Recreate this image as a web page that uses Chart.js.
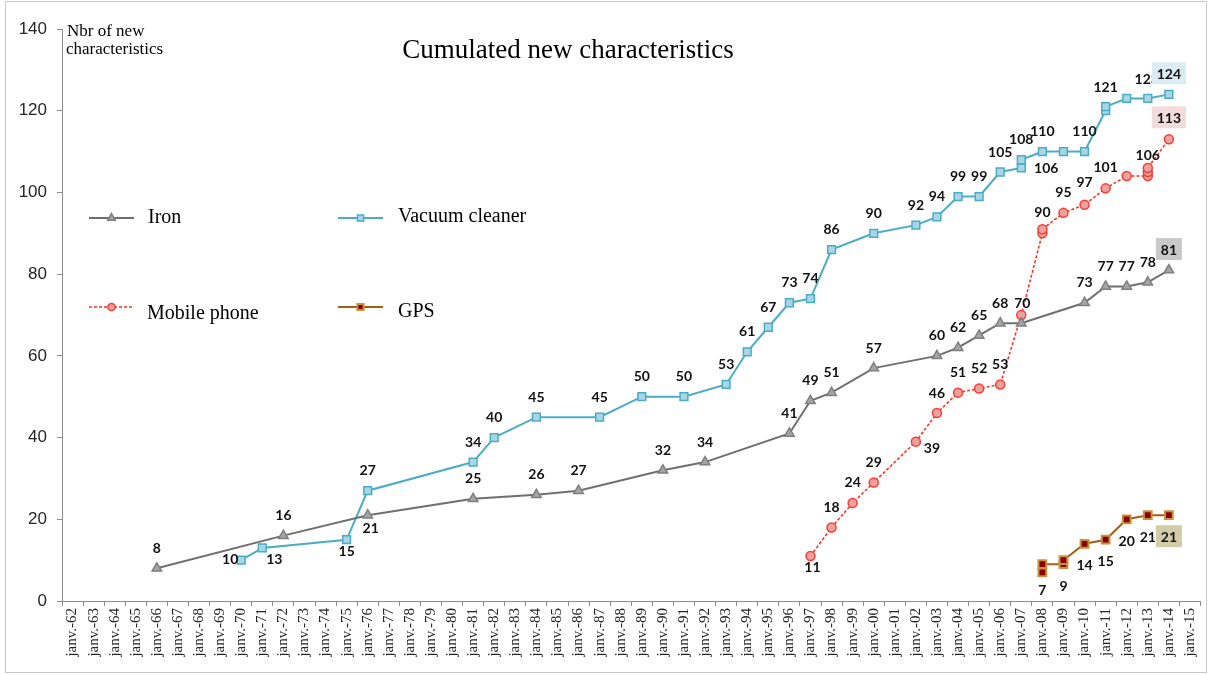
<!DOCTYPE html>
<html>
<head>
<meta charset="utf-8">
<title>Cumulated new characteristics</title>
<script src="https://cdn.jsdelivr.net/npm/chart.js@4.4.1/dist/chart.umd.min.js"></script>
<style>
  html, body { margin: 0; padding: 0; background: #fff; }
  #wrap { width: 1208px; height: 675px; }
</style>
</head>
<body>
<div id="wrap"><canvas id="chart" width="1208" height="675"></canvas></div>
<script>
// ---- data ----
const tickYears = [1962, 1963, 1964, 1965, 1966, 1967, 1968, 1969, 1970, 1971, 1972, 1973, 1974, 1975,
  1976, 1977, 1978, 1979, 1980, 1981, 1982, 1983, 1984, 1985, 1986, 1987, 1988, 1989, 1990, 1991,
  1992, 1993, 1994, 1995, 1996, 1997, 1998, 1999, 2000, 2001, 2002, 2003, 2004, 2005, 2006, 2007,
  2008, 2009, 2010, 2011, 2012, 2013, 2014, 2015];
const tickLabels = ['janv.-62', 'janv.-63', 'janv.-64', 'janv.-65', 'janv.-66', 'janv.-67', 'janv.-68',
  'janv.-69', 'janv.-70', 'janv.-71', 'janv.-72', 'janv.-73', 'janv.-74', 'janv.-75', 'janv.-76',
  'janv.-77', 'janv.-78', 'janv.-79', 'janv.-80', 'janv.-81', 'janv.-82', 'janv.-83', 'janv.-84',
  'janv.-85', 'janv.-86', 'janv.-87', 'janv.-88', 'janv.-89', 'janv.-90', 'janv.-91', 'janv.-92',
  'janv.-93', 'janv.-94', 'janv.-95', 'janv.-96', 'janv.-97', 'janv.-98', 'janv.-99', 'janv.-00',
  'janv.-01', 'janv.-02', 'janv.-03', 'janv.-04', 'janv.-05', 'janv.-06', 'janv.-07', 'janv.-08',
  'janv.-09', 'janv.-10', 'janv.-11', 'janv.-12', 'janv.-13', 'janv.-14', 'janv.-15'];
const yTicks = [0, 20, 40, 60, 80, 100, 120, 140];

const ironYears = [1966, 1972, 1976, 1981, 1984, 1986, 1990, 1992, 1996, 1997, 1998, 2000, 2003,
  2004, 2005, 2006, 2007, 2010, 2011, 2012, 2013, 2014];
const ironValues = [8, 16, 21, 25, 26, 27, 32, 34, 41, 49, 51, 57, 60, 62, 65, 68, 68, 73, 77, 77, 78, 81];

const vacuumYears = [1970, 1971, 1975, 1976, 1981, 1982, 1984, 1987, 1989, 1991, 1993, 1994, 1995,
  1996, 1997, 1998, 2000, 2002, 2003, 2004, 2005, 2006, 2007, 2007, 2008, 2009, 2010, 2011, 2011,
  2012, 2013, 2014];
const vacuumValues = [10, 13, 15, 27, 34, 40, 45, 45, 50, 50, 53, 61, 67, 73, 74, 86, 90, 92, 94, 99,
  99, 105, 106, 108, 110, 110, 110, 120, 121, 123, 123, 124];

const phoneYears = [1997, 1998, 1999, 2000, 2002, 2003, 2004, 2005, 2006, 2007, 2008, 2008, 2009,
  2010, 2011, 2012, 2013, 2013, 2013, 2014];
const phoneValues = [11, 18, 24, 29, 39, 46, 51, 52, 53, 70, 90, 91, 95, 97, 101, 104, 104, 105, 106, 113];

const gpsYears = [2008, 2008, 2009, 2009, 2010, 2011, 2012, 2013, 2014];
const gpsValues = [7, 9, 9, 10, 14, 15, 20, 21, 21];

// ---- label placement (offset from the point, px) ----
const A = [0, -20];
const ironLabelPos = [A, A, [3, 13], A, A, A, A, A, A, A, A, A, A, A, A, A, null, A, A, A, A, [0, -21]];
const vacuumLabelPos = [[-11, -1], [12, 12], [0, 12],
  A, A, A, A, A, A, A, A, A, A, A, A, A, A, A, A, A, A, A,
  [25, 1], A, A, null, A, null, [0, -19], null, [-1, -19], [0, -21]];
const phoneLabelPos = [[2, 11], A, A, A, [16, 7], A, A, A, A, [1, -12], [0, -21], null, A,
  [0, -22], [0, -21], null, null, null, [0, -12], [0, -22]];
const gpsLabelPos = [[0, 18], null, [0, 22], null, [0, 22], [0, 22], [0, 22], [0, 22], [0, 21]];

const toPoints = (xs, ys) => xs.map((x, i) => ({ x, y: ys[i] }));

const serif = '"Liberation Serif", "Times New Roman", serif';

// ---- plugins ----
const frame = {
  id: 'frame',
  beforeDraw(chart) {
    const { ctx } = chart;
    ctx.save();
    ctx.fillStyle = '#fff';
    ctx.fillRect(0, 0, chart.width, chart.height);
    ctx.strokeStyle = '#c8c8c8';
    ctx.lineWidth = 1;
    ctx.strokeRect(5.5, 1.5, 1201, 671);
    ctx.restore();
  }
};

const texts = {
  id: 'texts',
  afterDraw(chart) {
    const { ctx } = chart;
    ctx.save();
    ctx.fillStyle = '#000';
    ctx.textBaseline = 'alphabetic';
    ctx.textAlign = 'center';
    ctx.font = '27px ' + serif;
    ctx.fillText('Cumulated new characteristics', 568, 58);
    ctx.textAlign = 'left';
    ctx.font = '17px ' + serif;
    ctx.fillText('Nbr of new', 67, 36);
    ctx.fillText('characteristics', 66, 54);

    // legend
    const items = [
      { ds: 0, x: 89, y: 218, tx: 148, ty: 223 },
      { ds: 1, x: 338, y: 218, tx: 398, ty: 222 },
      { ds: 2, x: 89, y: 307, tx: 147, ty: 319 },
      { ds: 3, x: 338, y: 307, tx: 398, ty: 317 }
    ];
    items.forEach(it => {
      const d = chart.data.datasets[it.ds];
      ctx.save();
      ctx.strokeStyle = d.borderColor;
      ctx.lineWidth = d.borderWidth;
      ctx.setLineDash(d.borderDash || []);
      ctx.beginPath();
      ctx.moveTo(it.x, it.y);
      ctx.lineTo(it.x + 45, it.y);
      ctx.stroke();
      ctx.setLineDash([]);
      ctx.fillStyle = d.pointBackgroundColor;
      ctx.strokeStyle = d.pointBorderColor;
      ctx.lineWidth = d.pointBorderWidth;
      Chart.helpers.drawPoint(ctx, { pointStyle: d.pointStyle, radius: d.pointRadius * 0.8, borderWidth: d.pointBorderWidth, rotation: 0 }, it.x + 22.5, it.y);
      ctx.restore();
      ctx.fillStyle = '#000';
      ctx.font = '20px ' + serif;
      ctx.fillText(d.label, it.tx, it.ty);
    });
    ctx.restore();
  }
};

const boxColors = ['#c9c9c9', '#dbecf4', '#f2dcdb', '#d3cca9'];
const labelPos = [ironLabelPos, vacuumLabelPos, phoneLabelPos, gpsLabelPos];

const dataLabels = {
  id: 'dataLabels',
  afterDatasetsDraw(chart) {
    const { ctx } = chart;
    ctx.save();
    ctx.font = 'bold 14px Lato, "Liberation Sans", sans-serif';
    ctx.textAlign = 'center';
    ctx.textBaseline = 'middle';
    ctx.fillStyle = '#111';
    const boxed = [];
    chart.data.datasets.forEach((ds, di) => {
      const meta = chart.getDatasetMeta(di);
      const pos = labelPos[di];
      meta.data.forEach((pt, i) => {
        const p = pos[i];
        if (!p) return;
        const x = pt.x + p[0], y = pt.y + p[1];
        const txt = String(ds.data[i].y);
        if (i === ds.data.length - 1) { boxed.push({ x, y, txt, color: boxColors[di] }); return; }
        ctx.fillText(txt, x, y);
      });
    });
    // boxed end labels go on top of the others
    boxed.forEach(b => {
      const w = b.txt.length > 2 ? 34 : 26;
      ctx.fillStyle = b.color;
      ctx.fillRect(b.x - w / 2, b.y - 11, w, 22);
      ctx.fillStyle = '#111';
      ctx.fillText(b.txt, b.x, b.y + 1);
    });
    ctx.restore();
  }
};

// ---- chart ----
new Chart(document.getElementById('chart'), {
  type: 'line',
  data: {
    datasets: [
      {
        label: 'Iron',
        data: toPoints(ironYears, ironValues),
        borderColor: '#6f6f6f',
        borderWidth: 2,
        pointStyle: 'triangle',
        pointRadius: 5.5,
        pointBackgroundColor: '#a5a5a5',
        pointBorderColor: '#7f7f7f',
        pointBorderWidth: 1.5
      },
      {
        label: 'Vacuum cleaner',
        data: toPoints(vacuumYears, vacuumValues),
        borderColor: '#4bacc6',
        borderWidth: 2,
        pointStyle: 'rect',
        pointRadius: 5.5,
        pointBackgroundColor: '#a9d6e5',
        pointBorderColor: '#4bacc6',
        pointBorderWidth: 1.5
      },
      {
        label: 'Mobile phone',
        data: toPoints(phoneYears, phoneValues),
        borderColor: '#ff2a1a',
        borderWidth: 1.5,
        borderDash: [3, 2],
        pointStyle: 'circle',
        pointRadius: 4.5,
        pointBackgroundColor: '#e9a3a0',
        pointBorderColor: '#ff3b2f',
        pointBorderWidth: 1.5
      },
      {
        label: 'GPS',
        data: toPoints(gpsYears, gpsValues),
        borderColor: '#a0601a',
        borderWidth: 2,
        pointStyle: 'rect',
        pointRadius: 5.5,
        pointBackgroundColor: '#8b0000',
        pointBorderColor: '#c8923c',
        pointBorderWidth: 2
      }
    ]
  },
  options: {
    responsive: false,
    animation: false,
    events: [],
    layout: { padding: { top: 29, right: 6, left: 0, bottom: 0 } },
    elements: { line: { tension: 0 } },
    plugins: {
      legend: { display: false },
      tooltip: { enabled: false },
      title: { display: false }
    },
    scales: {
      x: {
        type: 'linear',
        min: 1961.5,
        max: 2015.5,
        afterBuildTicks: axis => { axis.ticks = tickYears.map(v => ({ value: v })); },
        afterFit: axis => {
          axis.height = 74;
          axis.paddingLeft = 0;
          axis.paddingRight = 0;
        },
        ticks: {
          autoSkip: false,
          minRotation: 90,
          maxRotation: 90,
          padding: 2,
          color: '#262626',
          font: { family: serif, size: 15 },
          callback: v => tickLabels[tickYears.indexOf(v)]
        },
        grid: {
          display: true,
          offset: true,
          drawOnChartArea: false,
          drawTicks: true,
          tickLength: 5,
          color: '#8c8c8c'
        },
        border: { display: true, color: '#8c8c8c', width: 1 }
      },
      y: {
        min: 0,
        max: 140,
        afterBuildTicks: axis => { axis.ticks = yTicks.map(v => ({ value: v })); },
        afterFit: axis => {
          axis.width = 62;
          axis.paddingTop = 0;
          axis.paddingBottom = 0;
        },
        ticks: {
          padding: 10,
          color: '#262626',
          font: { family: '"Liberation Sans", Arial, sans-serif', size: 17 }
        },
        grid: {
          display: true,
          drawOnChartArea: false,
          drawTicks: true,
          tickLength: 5,
          color: '#8c8c8c'
        },
        border: { display: true, color: '#8c8c8c', width: 1 }
      }
    }
  },
  plugins: [frame, dataLabels, texts]
});
</script>
</body>
</html>
